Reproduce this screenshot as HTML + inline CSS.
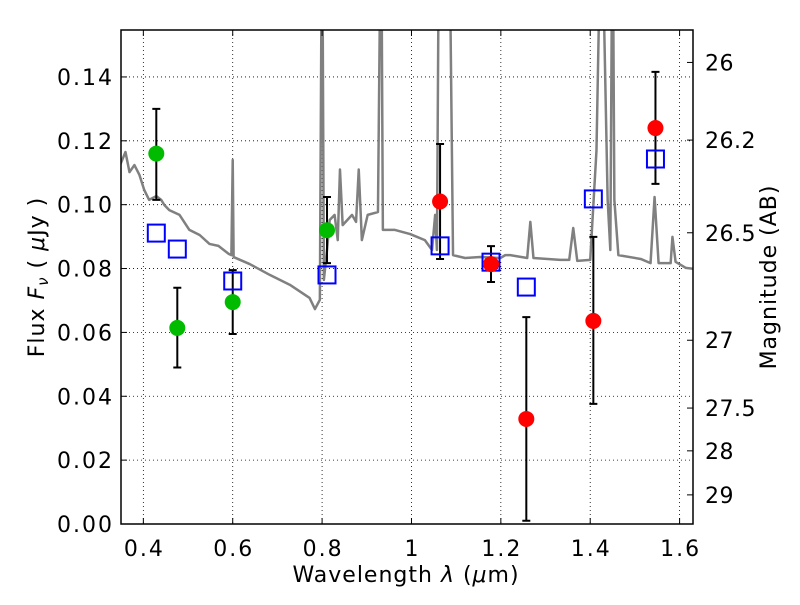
<!DOCTYPE html>
<html><head><meta charset="utf-8"><style>
html,body{margin:0;padding:0;background:#fff;}
svg text{font-family:"DejaVu Sans","Liberation Sans",sans-serif;}
</style></head><body>
<svg id="chart" width="800" height="600" xmlns="http://www.w3.org/2000/svg">
<rect width="800" height="600" fill="#fff"/>
<g id="grid"></g>
<defs><clipPath id="clip"><rect x="121" y="30" width="572" height="494"/></clipPath></defs>
<g id="plot" clip-path="url(#clip)"></g>
<g id="marks"></g>
<g id="axes"></g>
<text x="406" y="582" font-size="22" letter-spacing="1" text-anchor="middle">Wavelength  <tspan font-style="italic">λ</tspan> (<tspan font-style="italic">μ</tspan>m)</text>
<text transform="translate(44,277) rotate(-90)" font-size="22" letter-spacing="1" text-anchor="middle">Flux  <tspan font-style="italic">F<tspan font-size="15" dy="4">ν</tspan></tspan><tspan dy="-4">  ( </tspan><tspan font-style="italic">μ</tspan>Jy )</text>
<text transform="translate(776,277) rotate(-90)" font-size="22" letter-spacing="1" text-anchor="middle">Magnitude (AB)</text>
</svg>
<script>
const specWave=[0.348,0.360,0.369,0.380,0.391,0.402,0.413,0.429,0.440,0.447,0.458,0.481,0.503,0.526,0.548,0.568,0.591,0.597,0.600,0.602,0.638,0.683,0.728,0.772,0.784,0.795,0.800,0.804,0.811,0.817,0.828,0.835,0.840,0.846,0.867,0.876,0.882,0.889,0.902,0.925,0.932,0.936,0.963,0.997,1.030,1.046,1.053,1.057,1.062,1.084,1.093,1.120,1.154,1.199,1.210,1.221,1.259,1.266,1.273,1.333,1.353,1.362,1.371,1.400,1.414,1.425,1.439,1.445,1.450,1.454,1.463,1.513,1.535,1.544,1.553,1.580,1.584,1.591,1.614,1.632];
const specFlux=[0.1124,0.1165,0.1102,0.1124,0.1094,0.1046,0.1015,0.1027,0.1015,0.0999,0.0983,0.0968,0.0921,0.0905,0.0877,0.0871,0.0846,0.0842,0.114,0.0836,0.0814,0.0780,0.0749,0.0708,0.0673,0.0702,0.2,0.0764,0.0858,0.0952,0.0968,0.0889,0.111,0.0936,0.0968,0.0946,0.111,0.0889,0.0968,0.0977,0.2,0.0921,0.0921,0.0908,0.0889,0.0858,0.0968,0.0858,0.2,0.2,0.0842,0.0833,0.0836,0.0833,0.0842,0.0842,0.0833,0.0946,0.0833,0.0827,0.0827,0.0927,0.0824,0.0827,0.117,0.2,0.1015,0.0858,0.2,0.1015,0.0842,0.083,0.0817,0.1024,0.0817,0.0817,0.0899,0.0821,0.0802,0.0799];
const greenWave=[0.429,0.476,0.600,0.811];
const greenFlux=[0.116,0.0614,0.0695,0.092];
const greenHi=[0.130,0.074,0.0795,0.1024];
const greenLo=[0.1015,0.049,0.0595,0.0817];
const redWave=[1.064,1.178,1.257,1.407,1.546];
const redFlux=[0.101,0.0814,0.0329,0.0636,0.124];
const redHi=[0.119,0.087,0.0648,0.0899,0.1416];
const redLo=[0.083,0.0758,0.001,0.0376,0.1065];
const modelWave=[0.429,0.476,0.600,0.811,1.064,1.178,1.257,1.407,1.546];
const modelFlux=[0.0911,0.0861,0.0761,0.078,0.0871,0.082,0.0742,0.1018,0.1143];
const xTicks=[0.4,0.6,0.8,1.0,1.2,1.4,1.6];
const xTickLabels=["0.4","0.6","0.8","1","1.2","1.4","1.6"];
const yTicks=[0,0.02,0.04,0.06,0.08,0.10,0.12,0.14];
const yTickLabels=["0.00","0.02","0.04","0.06","0.08","0.10","0.12","0.14"];
const magTicks=[26,26.2,26.5,27,27.5,28,29];
const magTickLabels=["26","26.2","26.5","27","27.5","28","29"];

const X0=121,X1=693,Y0=524,Y1=30,XMIN=0.35,XMAX=1.63,YMIN=0,YMAX=0.1547;
const sx=v=>X0+(v-XMIN)/(XMAX-XMIN)*(X1-X0);
const sy=v=>Y0-(v-YMIN)/(YMAX-YMIN)*(Y0-Y1);
const magToFlux=m=>Math.pow(10,(23.9-m)/2.5);
const NS="http://www.w3.org/2000/svg";
function mk(tag,attrs,parent){const e=document.createElementNS(NS,tag);for(const k in attrs)e.setAttribute(k,attrs[k]);parent.appendChild(e);return e;}
const grid=document.getElementById('grid'),plot=document.getElementById('plot'),marks=document.getElementById('marks'),axes=document.getElementById('axes');
xTicks.forEach((t,i)=>{
  const g=mk('line',{x1:sx(t),x2:sx(t),y1:Y1,y2:Y0,stroke:'#000','stroke-width':0.8,'stroke-dasharray':'1,3'},grid);
  
  
  const tk=mk('line',{x1:sx(t),x2:sx(t),y1:Y0,y2:Y0-6,stroke:'#000'},axes);
  
  
  const tk2=mk('line',{x1:sx(t),x2:sx(t),y1:Y1,y2:Y1+6,stroke:'#000'},axes);
  
  
  const lb=mk('text',{x:sx(t)+1,y:Y0+32,'text-anchor':'middle','font-size':22,'letter-spacing':2},axes);
  lb.textContent=xTickLabels[i];
  
  
});
yTicks.forEach((t,i)=>{
  const g=mk('line',{x1:X0,x2:X1,y1:sy(t),y2:sy(t),stroke:'#000','stroke-width':0.8,'stroke-dasharray':'1,3'},grid);
  
  
  const tk=mk('line',{x1:X0,x2:X0+6,y1:sy(t),y2:sy(t),stroke:'#000'},axes);
  
  
  const lb=mk('text',{x:X0-7,y:sy(t)+8,'text-anchor':'end','font-size':22,'letter-spacing':2},axes);
  lb.textContent=yTickLabels[i];
  
  
});
magTicks.forEach((m,i)=>{
  const y=sy(magToFlux(m));
  const tk=mk('line',{x1:X1,x2:X1-6,y1:y,y2:y,stroke:'#000'},axes);
  
  
  const lb=mk('text',{x:X1+12,y:y+8,'text-anchor':'start','font-size':22,'letter-spacing':0.5},axes);
  lb.textContent=magTickLabels[i];
  
  
});
const sp=mk('polyline',{points:specWave.map((w,i)=>sx(w)+','+sy(specFlux[i])).join(' '),fill:'none',stroke:'#808080','stroke-width':2.5,'stroke-linejoin':'round'},plot);


function errbars(w,hi,lo){w.forEach((v,i)=>{
  const x=sx(v);
  const l=mk('path',{d:`M${x},${sy(hi[i])}V${sy(lo[i])}M${x-4},${sy(hi[i])}H${x+4}M${x-4},${sy(lo[i])}H${x+4}`,stroke:'#000','stroke-width':2,fill:'none'},marks);
  
  
});}
errbars(greenWave,greenHi,greenLo);
errbars(redWave,redHi,redLo);
modelWave.forEach((v,i)=>{
  const r=mk('rect',{x:sx(v)-8.5,y:sy(modelFlux[i])-8.5,width:17,height:17,fill:'none',stroke:'#0000ff','stroke-width':2},marks);
  
  
});
greenWave.forEach((v,i)=>{
  const c=mk('circle',{cx:sx(v),cy:sy(greenFlux[i]),r:8,fill:'#00bb00'},marks);
  
  
});
redWave.forEach((v,i)=>{
  const c=mk('circle',{cx:sx(v),cy:sy(redFlux[i]),r:8,fill:'#ff0000'},marks);
  
  
});
const fr=mk('rect',{x:X0,y:Y1,width:X1-X0,height:Y0-Y1,fill:'none',stroke:'#000','stroke-width':1.5},axes);


</script>
</body></html>
